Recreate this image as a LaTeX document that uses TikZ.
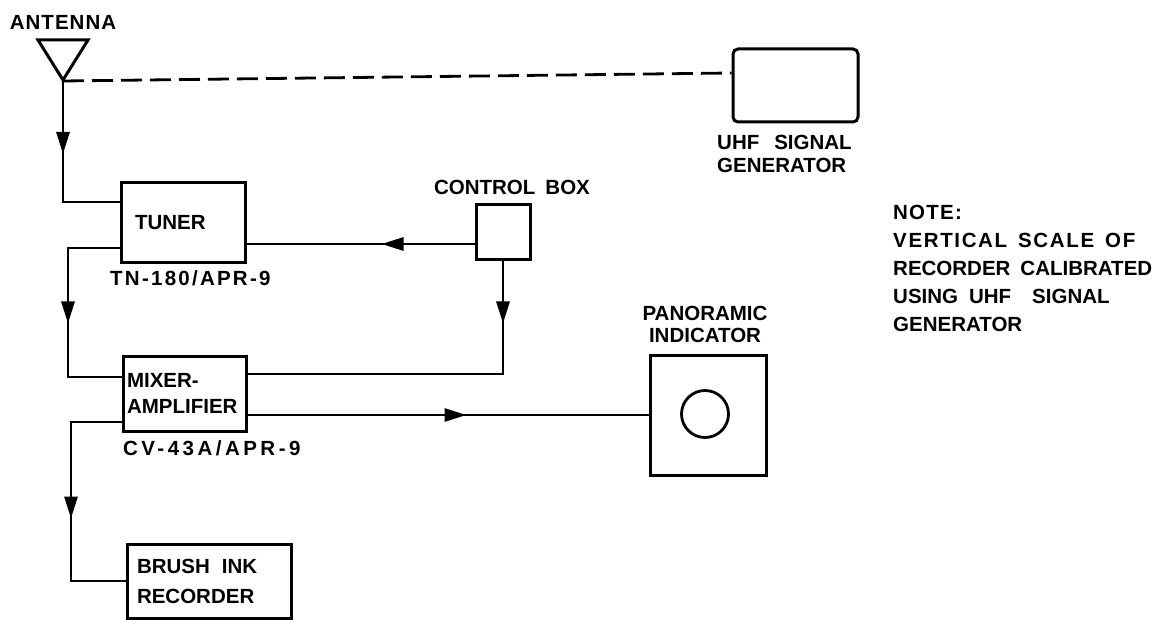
\documentclass[tikz,border=0pt]{standalone}
\usepackage{fontspec}
\setmainfont{Liberation Sans}
\usetikzlibrary{arrows.meta,decorations.markings}
\begin{document}
\begin{tikzpicture}[x=1pt,y=-1pt,
  every node/.style={inner sep=0pt},
  box/.style={draw, line width=3pt, inner sep=0pt},
  wire/.style={line width=2.8pt},
  lbl/.style={font=\fontsize{20.5}{23}\selectfont\bfseries},
  arrowat/.style={postaction={decorate}, decoration={markings, mark=at position #1 with {\arrow{Triangle[length=22pt,width=13pt]}}}},
  dashwire/.style={line width=2.8pt, dash pattern=on 21pt off 8pt}
]
\useasboundingbox (0,0) rectangle (1159,620);

% antenna
\draw[box, line join=miter] (38,40) -- (88,40) -- (63,80) -- cycle;
\coordinate (apex) at (63,81);
\node[lbl] (antlbl) at (63,22) {\addfontfeature{LetterSpace=5}ANTENNA};

% boxes
\node[box, minimum width=124pt, minimum height=80pt, text width=96pt, inner xsep=14pt, align=left, lbl] (tuner) at (183,223) {TUNER};
\node[box, minimum width=123pt, minimum height=75pt, text width=115pt, inner xsep=4pt, align=left, font=\fontsize{20.5}{26}\selectfont\bfseries] (mixer) at (184.5,393.5) {MIXER-\\AMPLIFIER};
\node[box, minimum width=164pt, minimum height=74pt, text width=144pt, inner xsep=10pt, align=left, font=\fontsize{20.5}{30}\selectfont\bfseries] (rec) at (209,581) {BRUSH\hspace{12pt}INK\\RECORDER};
\node[box, minimum width=54pt, minimum height=55pt] (ctrl) at (503,232.5) {};
\node[box, minimum width=116pt, minimum height=120pt] (pan) at (708,415) {};
\node[draw, circle, line width=2.8pt, minimum size=47pt] (screen) at (705,414) {};
\node[box, rounded corners=5pt, minimum width=125pt, minimum height=73pt] (uhf) at (795.5,85.5) {};

% labels
\node[lbl] (ctrllbl) at (512,187) {CONTROL\hspace{10pt}BOX};
\node[lbl, anchor=west] (tnlbl) at (110,278) {\addfontfeature{LetterSpace=11}TN-180/APR-9};
\node[lbl, anchor=west] (cvlbl) at (123,448) {\addfontfeature{LetterSpace=17}CV-43A/APR-9};
\node[align=center, font=\fontsize{20.5}{22}\selectfont\bfseries] (panlbl) at (705,324) {PANORAMIC\\INDICATOR};
\node[anchor=west, align=left, lbl] (uhflbl) at (717,153.5) {UHF\hspace{15pt}SIGNAL\\GENERATOR};
\node[anchor=west, align=left, font=\fontsize{20.5}{28}\selectfont\bfseries] (note) at (893,268)
  {{\addfontfeature{LetterSpace=6}NOTE:}\\
   {\addfontfeature{LetterSpace=8}VERTICAL\hspace{11pt}SCALE\hspace{11pt}OF}\\
   {RECORDER\hspace{10pt}CALIBRATED}\\
   {USING\hspace{11pt}UHF\hspace{21pt}SIGNAL}\\
   {GENERATOR}};

% connectors
\draw[dashwire] (apex) -- ([yshift=12.5pt]uhf.west);
\draw[wire, arrowat=73pt] (apex) |- ([yshift=21pt]tuner.west);
\draw[wire, arrowat=127pt] ([yshift=-25pt]tuner.west) -- (68,248) -- (68,377) -- ([yshift=16.5pt]mixer.west);
\coordinate (c1) at ([yshift=-11.5pt]ctrl.west);
\draw[wire, arrowat=93pt] (c1) -- (c1 -| tuner.east);
\draw[wire, arrowat=62pt] (ctrl.south) |- ([yshift=19.5pt]mixer.east);
\draw[wire, arrowat=219pt] (pan.west -| mixer.east) -- (pan.west);
\draw[wire, arrowat=147pt] ([yshift=-28.5pt]mixer.west) -- (71,422) -- (71,581) -- (rec.west);
\end{tikzpicture}
\end{document}
